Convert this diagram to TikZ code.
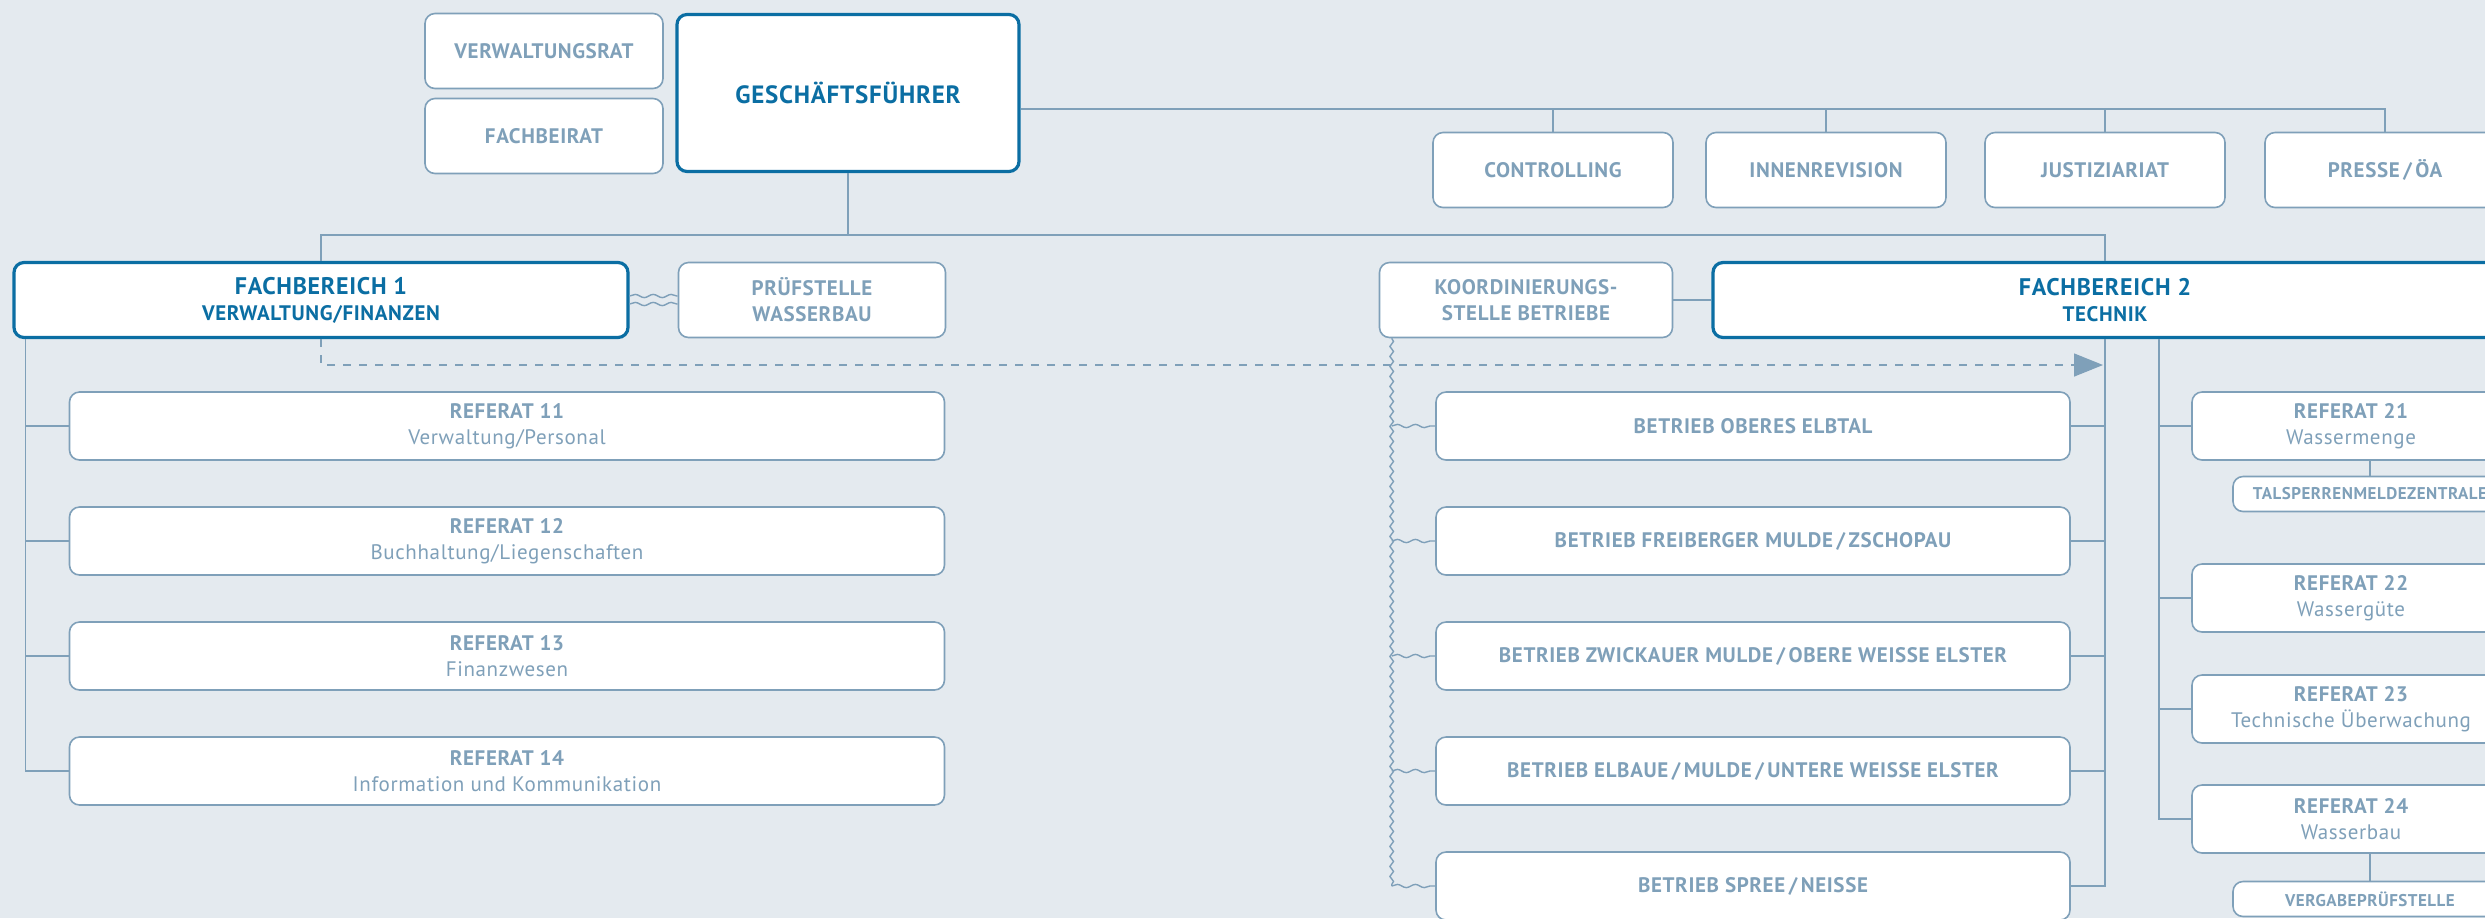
\documentclass[tikz,border=0pt]{standalone}
\usepackage{fontspec}
\setmainfont{PT Sans}[LetterSpace=3]
\usetikzlibrary{arrows.meta,decorations.pathmorphing}
\definecolor{hg}{HTML}{E4EAEF}
\definecolor{grau}{HTML}{7FA0B9}
\definecolor{blau}{HTML}{0B6EA3}
\tikzset{
  box/.style={draw=grau, line width=0.8pt, fill=white, rounded corners=5pt, text=grau,
    font=\fontsize{10.5}{13}\selectfont\bfseries, align=center, inner sep=0pt},
  hbox/.style={box, draw=blau, line width=1.6pt, text=blau},
  stab/.style={box, minimum width=120pt, minimum height=37.5pt},
  referat/.style={box, minimum width=437.5pt, minimum height=34pt},
  betrieb/.style={box, minimum width=317pt, minimum height=34pt},
  ref2/.style={box, minimum width=159pt, minimum height=34pt},
  klein/.style={box, minimum width=137pt, minimum height=17.5pt, font=\fontsize{8.5}{10}\selectfont\bfseries},
  linie/.style={draw=grau, line width=0.7pt},
  welle/.style={linie, decorate, decoration={snake, amplitude=0.9pt, segment length=5pt}},
  hwelle/.style={linie, decorate, decoration={snake, amplitude=0.8pt, segment length=9pt}},
}
\begin{document}
\begin{tikzpicture}[x=0.5pt,y=-0.5pt]
\useasboundingbox (0,0) rectangle (2485,918);
\clip (0,0) rectangle (2485,918);
\fill[hg] (0,0) rectangle (2485,918);

\node[box, minimum width=119pt, minimum height=37.5pt] (vr) at (544,51) {VERWALTUNGSRAT};
\node[box, minimum width=119pt, minimum height=37.5pt] (fbr) at (544,136) {FACHBEIRAT};
\node[hbox, minimum width=171pt, minimum height=78.5pt, font=\fontsize{12.5}{15}\selectfont\bfseries] (gf) at (848,93) {GESCHÄFTSFÜHRER};

\node[stab] (contr) at (1553,170) {CONTROLLING};
\node[stab] (innen) at (1826,170) {INNENREVISION};
\node[stab] (justiz) at (2105,170) {JUSTIZIARIAT};
\node[stab] (presse) at (2385,170) {PRESSE\,/\,ÖA};

\node[hbox, minimum width=307pt, minimum height=37.5pt] (fb1) at (321,300)
  {{\fontsize{12}{14}\selectfont FACHBEREICH 1}\\VERWALTUNG/FINANZEN};
\node[box, minimum width=133.5pt, minimum height=37.5pt] (pruef) at (812,300) {PRÜFSTELLE\\WASSERBAU};
\node[box, minimum width=146.5pt, minimum height=37.5pt] (koord) at (1526,300) {KOORDINIERUNGS-\\STELLE BETRIEBE};
\node[hbox, minimum width=392pt, minimum height=37.5pt] (fb2) at (2105,300)
  {{\fontsize{12}{14}\selectfont FACHBEREICH 2}\\TECHNIK};

\node[referat] (r11) at (507,426) {REFERAT 11\\\mdseries Verwaltung/Personal};
\node[referat] (r12) at (507,541) {REFERAT 12\\\mdseries Buchhaltung/Liegenschaften};
\node[referat] (r13) at (507,656) {REFERAT 13\\\mdseries Finanzwesen};
\node[referat] (r14) at (507,771) {REFERAT 14\\\mdseries Information und Kommunikation};

\node[betrieb] (b1) at (1753,426) {BETRIEB OBERES ELBTAL};
\node[betrieb] (b2) at (1753,541) {BETRIEB FREIBERGER MULDE\,/\,ZSCHOPAU};
\node[betrieb] (b3) at (1753,656) {BETRIEB ZWICKAUER MULDE\,/\,OBERE WEISSE ELSTER};
\node[betrieb] (b4) at (1753,771) {BETRIEB ELBAUE\,/\,MULDE\,/\,UNTERE WEISSE ELSTER};
\node[betrieb] (b5) at (1753,886) {BETRIEB SPREE\,/\,NEISSE};

\node[ref2] (r21) at (2351,426) {REFERAT 21\\\mdseries Wassermenge};
\node[klein] (tals) at (2370,494) {TALSPERRENMELDEZENTRALE};
\node[ref2] (r22) at (2351,598) {REFERAT 22\\\mdseries Wassergüte};
\node[ref2] (r23) at (2351,709) {REFERAT 23\\\mdseries Technische Überwachung};
\node[ref2] (r24) at (2351,819) {REFERAT 24\\\mdseries Wasserbau};
\node[klein] (verg) at (2370,899) {VERGABEPRÜFSTELLE};

\coordinate (oben) at (2385,109);
\coordinate (quer) at (848,235);
\coordinate (pfeil) at (2103,365);
\coordinate (fb1l) at ([xshift=6.5pt]fb1.south west);
\coordinate (fb2r) at ([xshift=27pt]fb2.south);
\coordinate (kw) at ([xshift=6.5pt]koord.south west);

\draw[linie] (gf.east |- oben) -- (oben) -- (presse.north);
\draw[linie] (contr.north) -- (contr.north |- oben);
\draw[linie] (innen.north) -- (innen.north |- oben);
\draw[linie] (justiz.north) -- (justiz.north |- oben);

\draw[linie] (gf.south) -- (quer);
\draw[linie] (fb1.north) |- (fb2.north |- quer) -- (fb2.north);
\draw[hwelle] ([yshift=2pt]fb1.east) -- ([yshift=2pt]pruef.west);
\draw[hwelle] ([yshift=-2pt]fb1.east) -- ([yshift=-2pt]pruef.west);
\draw[linie] (koord) -- (fb2);
\draw[linie, dash pattern=on 4pt off 4pt, -{Triangle[length=14.5pt,width=11.5pt]}] (fb1.south) |- (pfeil);

\draw[linie] (fb1l) |- (r14.west);
\draw[linie] (r11.west) -- (r11.west -| fb1l);
\draw[linie] (r12.west) -- (r12.west -| fb1l);
\draw[linie] (r13.west) -- (r13.west -| fb1l);

\draw[welle] (kw) -- (kw |- b5.west);
\draw[hwelle] (b1.west -| kw) -- (b1.west);
\draw[hwelle] (b2.west -| kw) -- (b2.west);
\draw[hwelle] (b3.west -| kw) -- (b3.west);
\draw[hwelle] (b4.west -| kw) -- (b4.west);
\draw[hwelle] (b5.west -| kw) -- (b5.west);

\draw[linie] (fb2.south) |- (b5.east);
\draw[linie] (b1.east) -- (b1.east -| fb2.south);
\draw[linie] (b2.east) -- (b2.east -| fb2.south);
\draw[linie] (b3.east) -- (b3.east -| fb2.south);
\draw[linie] (b4.east) -- (b4.east -| fb2.south);

\draw[linie] (fb2r) |- (r24.west);
\draw[linie] (r21.west) -- (r21.west -| fb2r);
\draw[linie] (r22.west) -- (r22.west -| fb2r);
\draw[linie] (r23.west) -- (r23.west -| fb2r);
\draw[linie] (tals.north |- r21.south) -- (tals.north);
\draw[linie] (verg.north |- r24.south) -- (verg.north);
\end{tikzpicture}
\end{document}
